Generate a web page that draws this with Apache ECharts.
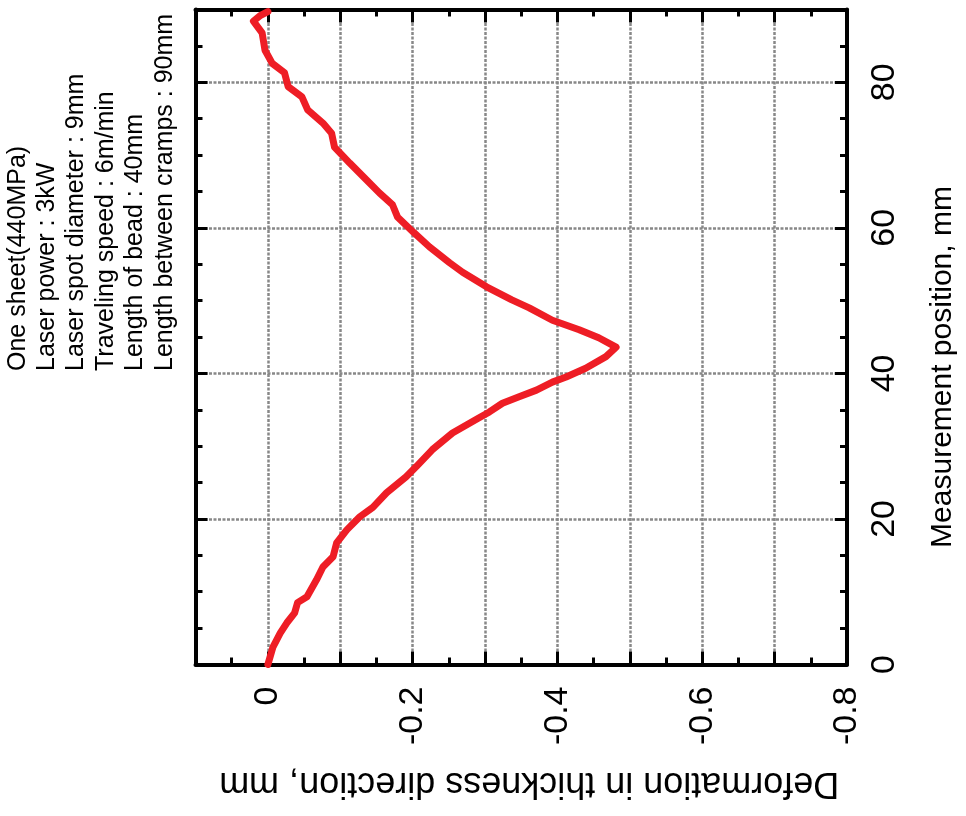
<!DOCTYPE html>
<html>
<head>
<meta charset="utf-8">
<title>Deformation in thickness direction</title>
<script src="https://cdn.jsdelivr.net/npm/echarts@6/dist/echarts.min.js"></script>
<style>
  html, body { margin: 0; padding: 0; background: #fff; }
  #chart { width: 966px; height: 816px; }
</style>
</head>
<body>
<div id="chart"></div>
<script>
// Measured profile: position along the sheet (mm) and out-of-plane deformation (mm)
const positionMm = [
  0, 2.4, 4.3, 5.7, 7.1, 8.5, 9.3, 11.6, 13.4, 14.8,
  16.7, 18.5, 20.3, 21.6, 23.6, 25.8, 27.2, 29.5, 31.8, 33.8,
  34.7, 35.9, 36.8, 37.7, 38.8, 39.5, 40.7, 42.3, 43.6, 44.9,
  46.0, 47.3, 49.0, 50.1, 51.9, 53.9, 55.2, 57.4, 59.4, 61.5,
  63.2, 64.8, 66.6, 68.9, 71.1, 73.0, 74.4, 76.2, 78.0, 79.4,
  81.3, 82.6, 84.4, 86.8, 88.4, 89.2, 89.7
];
const deformationMm = [
  0, -0.007, -0.017, -0.026, -0.037, -0.041, -0.054, -0.067, -0.076, -0.090,
  -0.095, -0.109, -0.127, -0.145, -0.164, -0.191, -0.205, -0.227, -0.255, -0.290,
  -0.306, -0.324, -0.347, -0.371, -0.393, -0.412, -0.439, -0.467, -0.481, -0.457,
  -0.430, -0.393, -0.361, -0.337, -0.302, -0.269, -0.251, -0.223, -0.201, -0.179,
  -0.172, -0.154, -0.136, -0.113, -0.092, -0.088, -0.076, -0.055, -0.047, -0.028,
  -0.023, -0.006, 0.004, 0.008, 0.020, 0.010, 0
];

// Tick labels
const deformationTicks = [0, -0.2, -0.4, -0.6, -0.8];
const deformationTickLabels = ['0', '-0.2', '-0.4', '-0.6', '-0.8'];
const positionTicks = [0, 20, 40, 60, 80];
const positionTickLabels = ['0', '20', '40', '60', '80'];

// Test conditions
const conditionLines = [
  'One sheet(440MPa)',
  'Laser power : 3kW',
  'Laser spot diameter : 9mm',
  'Traveling speed : 6m/min',
  'Length of bead : 40mm',
  'Length between cramps : 90mm'
];

const xName = 'Deformation in thickness direction, mm';
const yName = 'Measurement position, mm';

const FONT = "'Liberation Sans', Arial, Helvetica, sans-serif";

function lookupLabel(values, labels, v) {
  for (let i = 0; i < values.length; i++) {
    if (Math.abs(values[i] - v) < 1e-6) return labels[i];
  }
  return '';
}

const seriesData = positionMm.map((p, i) => [deformationMm[i], p]);

const chart = echarts.init(document.getElementById('chart'), null, { renderer: 'canvas' });

const frameLine = { show: true, onZero: false, lineStyle: { color: '#000', width: 4 } };
const noLine = { show: false, onZero: false };
const gridDots = { show: true, lineStyle: { color: '#888', width: 2.5, type: [3, 1.5] } };
const tickStyle = { color: '#000', width: 3 };

chart.setOption({
  animation: false,
  backgroundColor: '#fff',
  grid: { left: 195.5, right: 117, top: 9.5, bottom: 151.5, containLabel: false },
  xAxis: [
    {
      type: 'value', position: 'bottom', min: -0.8, max: 0.1, interval: 0.1, inverse: true,
      axisLine: frameLine,
      axisTick: { show: true, inside: true, length: 13, lineStyle: tickStyle },
      minorTick: { show: true, splitNumber: 2, length: 7, lineStyle: tickStyle },
      splitLine: gridDots,
      axisLabel: {
        rotate: 90, margin: 22, fontSize: 34, fontFamily: FONT, color: '#000',
        formatter: v => lookupLabel(deformationTicks, deformationTickLabels, v)
      },
      name: xName, nameLocation: 'middle', nameRotate: 180, nameGap: 100,
      nameTextStyle: { fontSize: 36, fontFamily: FONT, color: '#000', padding: [0, 16, 0, 0] }
    },
    {
      type: 'value', position: 'top', min: -0.8, max: 0.1, interval: 0.1, inverse: true,
      axisLine: frameLine,
      axisTick: { show: true, inside: true, length: 13, lineStyle: tickStyle },
      minorTick: { show: true, splitNumber: 2, length: 7, lineStyle: tickStyle },
      splitLine: { show: false },
      axisLabel: { show: false }
    }
  ],
  yAxis: [
    {
      type: 'value', position: 'right', min: 0, max: 90, interval: 20,
      axisLine: frameLine,
      axisTick: { show: true, inside: true, length: 12, lineStyle: tickStyle },
      splitLine: gridDots,
      axisLabel: {
        rotate: 90, margin: 21, fontSize: 34, fontFamily: FONT, color: '#000',
        formatter: v => lookupLabel(positionTicks, positionTickLabels, v)
      },
      name: yName, nameLocation: 'middle', nameRotate: 90, nameGap: 81,
      nameTextStyle: { fontSize: 30, fontFamily: FONT, color: '#000', padding: [0, 60, 0, 0] }
    },
    {
      type: 'value', position: 'right', min: 0, max: 90, interval: 5,
      axisLine: noLine,
      axisTick: { show: true, inside: true, length: 7, lineStyle: tickStyle },
      splitLine: { show: false },
      axisLabel: { show: false }
    },
    {
      type: 'value', position: 'left', min: 0, max: 90, interval: 20,
      axisLine: frameLine,
      axisTick: { show: true, inside: true, length: 12, lineStyle: tickStyle },
      splitLine: { show: false },
      axisLabel: { show: false }
    },
    {
      type: 'value', position: 'left', min: 0, max: 90, interval: 5,
      axisLine: noLine,
      axisTick: { show: true, inside: true, length: 7, lineStyle: tickStyle },
      splitLine: { show: false },
      axisLabel: { show: false }
    }
  ],
  graphic: [
    {
      type: 'text',
      x: 3, y: 371,
      rotation: Math.PI / 2,
      style: {
        text: conditionLines.join('\n'),
        font: '25px ' + FONT,
        lineHeight: 29.4,
        fill: '#000',
        textAlign: 'left',
        textVerticalAlign: 'top'
      }
    }
  ],
  series: [
    {
      type: 'line',
      xAxisIndex: 0,
      yAxisIndex: 0,
      data: seriesData,
      showSymbol: false,
      symbol: 'none',
      lineStyle: { color: '#ee1d25', width: 7, join: 'round', cap: 'round' },
      z: 5
    }
  ]
});
</script>
</body>
</html>
